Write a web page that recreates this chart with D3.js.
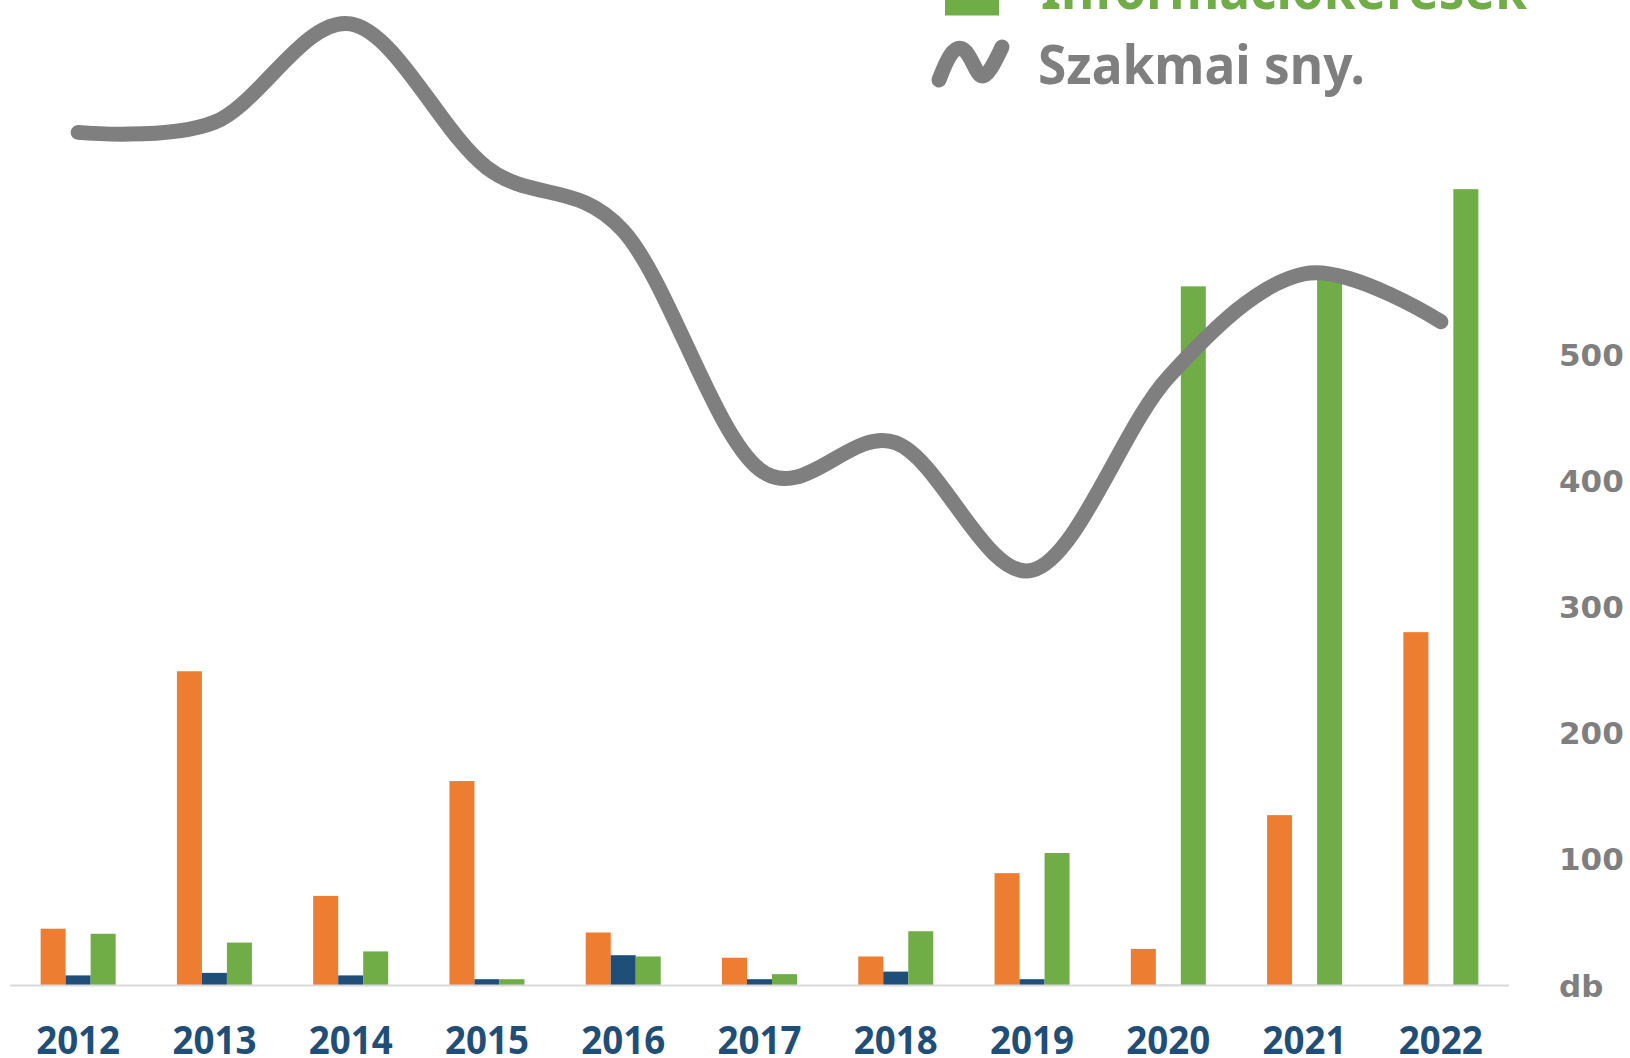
<!DOCTYPE html>
<html>
<head>
<meta charset="utf-8">
<script src="https://cdn.jsdelivr.net/npm/d3@7"></script>
<style>
  html, body { margin: 0; padding: 0; background: #fff; }
  svg { display: block; }
</style>
</head>
<body>
<svg id="svg" width="1630" height="1058"></svg>
<script>
var years = ["2012", "2013", "2014", "2015", "2016", "2017", "2018", "2019", "2020", "2021", "2022"];
var orangeVals = [45, 249, 71, 162, 42, 22, 23, 89, 29, 135, 280];
var blueVals = [8, 10, 8, 5, 24, 5, 11, 5, 0.5, 0.5, 0.5];
var greenVals = [41, 34, 27, 5, 23, 9, 43, 105, 554, 560, 631];
var lineVals = [676, 684, 762, 648, 598, 409, 430, 329, 482, 564, 526];
var tickVals = [100, 200, 300, 400, 500];
var legendLabels = ["Információkérések", "Szakmai sny."];

var svg = d3.select("#svg");
var width = +svg.attr("width"), height = +svg.attr("height");

var x = d3.scaleBand().domain(years).range([10, 1509]).padding(0);
var keys = ["o", "b", "g"];
var colors = { o: "#ed7d31", b: "#1f4e79", g: "#70ad47" };
var xSub = d3.scaleBand().domain(keys)
  .range([x.bandwidth() / 2 - 37.5, x.bandwidth() / 2 + 37.5]);
var y = d3.scaleLinear().domain([0, 800]).range([985.5, 985.5 - 8 * 126.2]);

var rows = years.map(function(yr, i) {
  return { year: yr, o: orangeVals[i], b: blueVals[i], g: greenVals[i] };
});

// bars
var groups = svg.append("g").selectAll("g").data(rows).enter()
  .append("g")
  .attr("transform", function(d) { return "translate(" + x(d.year) + ",0)"; });
groups.selectAll("rect")
  .data(function(d) { return keys.map(function(k) { return { k: k, v: d[k] }; }); })
  .enter().append("rect")
  .attr("x", function(d) { return xSub(d.k); })
  .attr("width", xSub.bandwidth())
  .attr("y", function(d) { return y(d.v); })
  .attr("height", function(d) { return y(0) - y(d.v); })
  .attr("fill", function(d) { return colors[d.k]; });

// baseline
svg.append("line")
  .attr("x1", 10).attr("x2", 1509)
  .attr("y1", y(0)).attr("y2", y(0))
  .attr("stroke", "#d9d9d9").attr("stroke-width", 2);

// smoothed line
var line = d3.line()
  .x(function(d, i) { return x(years[i]) + x.bandwidth() / 2; })
  .y(function(d) { return y(d); })
  .curve(d3.curveCardinal.tension(0));
svg.append("path")
  .datum(lineVals)
  .attr("d", line)
  .attr("fill", "none")
  .attr("stroke", "#7f7f7f")
  .attr("stroke-width", 15)
  .attr("stroke-linecap", "round")
  .attr("stroke-linejoin", "round");

// year labels
svg.append("g").selectAll("text").data(years).enter()
  .append("text")
  .attr("x", function(d) { return x(d) + x.bandwidth() / 2; })
  .attr("y", 1054)
  .attr("text-anchor", "middle")
  .attr("textLength", 84)
  .attr("lengthAdjust", "spacingAndGlyphs")
  .style("font-family", "'Noto Sans', sans-serif")
  .style("font-weight", "bold")
  .style("font-size", "39px")
  .attr("fill", "#1f4e79")
  .text(function(d) { return d; });

// right value labels
var tickG = svg.append("g")
  .style("font-family", "'DejaVu Sans', sans-serif")
  .style("font-weight", "bold")
  .style("font-size", "31px")
  .attr("fill", "#7f7f7f");
tickG.selectAll("text").data(tickVals).enter()
  .append("text")
  .attr("x", 1559)
  .attr("y", function(d) { return y(d); })
  .attr("dy", "0.36em")
  .text(function(d) { return d; });
tickG.append("text")
  .attr("x", 1559).attr("y", y(0)).attr("dy", "0.36em")
  .text("db");

// legend
svg.append("rect")
  .attr("x", 945).attr("y", -10).attr("width", 54).attr("height", 25.5)
  .attr("fill", "#70ad47");
svg.append("text")
  .attr("x", 1041).attr("y", 8.5)
  .attr("textLength", 486).attr("lengthAdjust", "spacingAndGlyphs")
  .style("font-family", "'Noto Sans', sans-serif")
  .style("font-weight", "bold").style("font-size", "58px")
  .attr("fill", "#70ad47")
  .text(legendLabels[0]);

var iconPts = [[939, 80], [950, 52], [962, 45], [972, 60], [980, 80], [990, 72], [1002, 47]];
svg.append("path")
  .attr("d", d3.line().curve(d3.curveBasis)(iconPts))
  .attr("fill", "none")
  .attr("stroke", "#7f7f7f")
  .attr("stroke-width", 15)
  .attr("stroke-linecap", "round");
svg.append("text")
  .attr("x", 1038).attr("y", 83.5)
  .attr("textLength", 327).attr("lengthAdjust", "spacingAndGlyphs")
  .style("font-family", "'Noto Sans', sans-serif")
  .style("font-weight", "bold").style("font-size", "54px")
  .attr("fill", "#7f7f7f")
  .text(legendLabels[1]);
</script>
</body>
</html>
